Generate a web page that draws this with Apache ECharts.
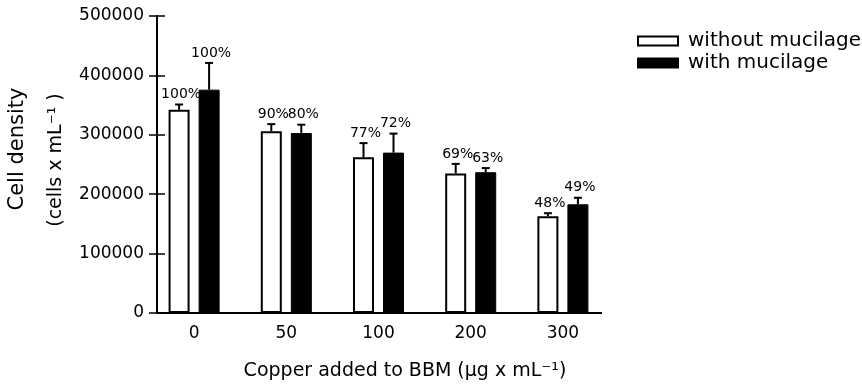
<!DOCTYPE html>
<html>
<head>
<meta charset="utf-8">
<script src="https://cdn.jsdelivr.net/npm/echarts@6/dist/echarts.min.js"></script>
<style>
  html, body { margin: 0; padding: 0; background: #fff; }
  #main { width: 862px; height: 387px; }
</style>
</head>
<body>
<div id="main"></div>
<script>
// copper added (ug/mL)
const categories = ['0', '50', '100', '200', '300'];
// cell density, cells/mL
const withoutMucilage = [342000, 306000, 262000, 235000, 163000];
const withMucilage = [376000, 303000, 270000, 237000, 183000];
// upper error bars
const withoutErr = [9000, 12000, 24000, 16000, 5000];
const withErr = [45000, 14000, 32000, 7000, 11000];
// percent labels above the bars
const withoutPct = ['100%', '90%', '77%', '69%', '48%'];
const withPct = ['100%', '80%', '72%', '63%', '49%'];
const yTicks = [0, 100000, 200000, 300000, 400000, 500000];

const FONT = '"DejaVu Sans", sans-serif';
const GRID = { left: 148, top: 16, right: 253, bottom: 74 };

const chart = echarts.init(document.getElementById('main'));

function errorBars(name, values, errs, labels, offset) {
  return {
    type: 'custom',
    name: name,
    silent: true,
    z: 5,
    data: values.map((v, i) => [i, v, errs[i]]),
    renderItem: function (params, api) {
      const base = api.coord([api.value(0), api.value(1)]);
      const top = api.coord([api.value(0), api.value(1) + api.value(2)]);
      const x = base[0] + offset;
      return {
        type: 'group',
        children: [
          { type: 'line', shape: { x1: x, y1: base[1], x2: x, y2: top[1] }, style: { stroke: '#000', lineWidth: 2 } },
          { type: 'line', shape: { x1: x - 4, y1: top[1], x2: x + 4, y2: top[1] }, style: { stroke: '#000', lineWidth: 2 } },
          {
            type: 'text', x: x + 2, y: top[1] - 3,
            style: { text: labels[params.dataIndex], align: 'center', verticalAlign: 'bottom', font: '14px ' + FONT, fill: '#000' }
          }
        ]
      };
    }
  };
}

const yAxisBase = {
  type: 'value',
  position: 'left',
  min: yTicks[0],
  max: yTicks[yTicks.length - 1],
  interval: yTicks[1] - yTicks[0],
  offset: -9,
  splitLine: { show: false }
};

const option = {
  backgroundColor: '#fff',
  animation: false,
  grid: GRID,
  legend: {
    data: ['without mucilage', 'with mucilage'],
    orient: 'vertical',
    left: 632,
    top: 26,
    icon: 'rect',
    itemWidth: 40,
    itemHeight: 9,
    itemGap: 2,
    textStyle: { fontFamily: FONT, fontSize: 20, color: '#000', padding: [0, 0, 0, 5] }
  },
  xAxis: {
    type: 'category',
    data: categories,
    axisLine: { show: false },
    axisTick: { show: false },
    axisLabel: { color: '#000', fontFamily: FONT, fontSize: 17, margin: 12 }
  },
  yAxis: [
    Object.assign({}, yAxisBase, {
      axisLine: { show: true, lineStyle: { color: '#000', width: 2 } },
      axisTick: { show: true, length: 8, lineStyle: { color: '#000', width: 1.5 } },
      axisLabel: { color: '#000', fontFamily: FONT, fontSize: 17, margin: 13, formatter: v => String(v) }
    }),
    Object.assign({}, yAxisBase, {
      axisLine: { show: false },
      axisTick: { show: true, inside: true, length: 8, lineStyle: { color: '#000', width: 1.5 } },
      axisLabel: { show: false }
    })
  ],
  series: [
    {
      name: 'without mucilage',
      type: 'bar',
      data: withoutMucilage,
      barWidth: 21,
      barGap: '43%',
      itemStyle: { color: '#fff', borderColor: '#000', borderWidth: 2 }
    },
    {
      name: 'with mucilage',
      type: 'bar',
      data: withMucilage,
      barWidth: 21,
      barGap: '43%',
      itemStyle: { color: '#000', borderColor: '#000', borderWidth: 1 }
    },
    errorBars('err-without', withoutMucilage, withoutErr, withoutPct, -15),
    errorBars('err-with', withMucilage, withErr, withPct, 15)
  ],
  graphic: [
    // x axis line, starts at the y axis
    {
      type: 'line',
      shape: { x1: GRID.left + 9, y1: 387 - GRID.bottom, x2: 602, y2: 387 - GRID.bottom },
      style: { stroke: '#000', lineWidth: 2 }
    },
    {
      type: 'text', x: 18, y: 149, rotation: Math.PI / 2,
      style: { text: 'Cell density', align: 'center', verticalAlign: 'middle', font: '21px ' + FONT, fill: '#000' }
    },
    {
      type: 'text', x: 56, y: 160, rotation: Math.PI / 2,
      style: { text: '(cells x mL\u207B\u00B9 )', align: 'center', verticalAlign: 'middle', font: '19px ' + FONT, fill: '#000' }
    },
    {
      type: 'text', x: 405, y: 371,
      style: { text: 'Copper added to BBM (\u03BCg x mL\u207B\u00B9)', align: 'center', verticalAlign: 'middle', font: '19px ' + FONT, fill: '#000' }
    }
  ]
};

chart.setOption(option);
</script>
</body>
</html>
